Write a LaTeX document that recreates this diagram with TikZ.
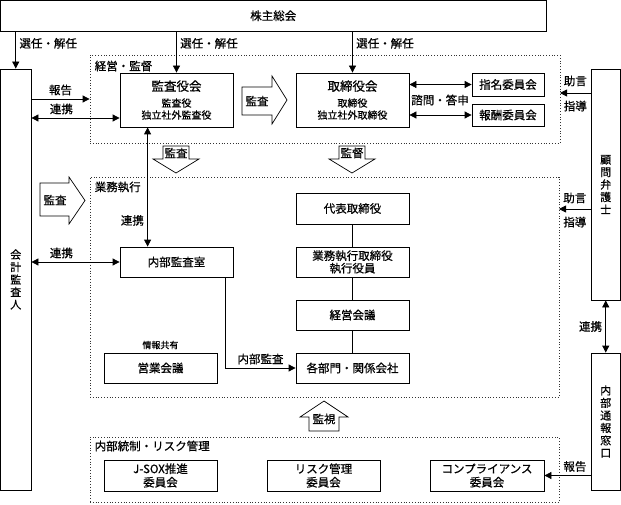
\documentclass[tikz,border=0pt]{standalone}
\usepackage{fontspec}
\setmainfont{Noto Sans CJK JP}[FakeBold=0.6]
\usetikzlibrary{arrows.meta}

\tikzset{
  arr/.style={-{Triangle[length=7pt,width=7pt]}},
  dbl/.style={{Triangle[length=7pt,width=7pt]}-{Triangle[length=7pt,width=7pt]}},
  frame/.style={draw=black!80, dotted, line width=0.8pt, rectangle, inner sep=0pt},
  box/.style={draw, rectangle, inner sep=1pt, align=center},
  vbox/.style={box, font=\fontsize{11}{12.5}\selectfont},
  hollow/.style={draw, fill=white, line width=0.7pt},
  small/.style={font=\fontsize{10}{12}\selectfont},
}

\begin{document}
\begin{tikzpicture}[x=1pt, y=-1pt, line width=0.8pt, font=\fontsize{11.5}{13.5}\selectfont]
\useasboundingbox (0,0) rectangle (621,505);

\begin{scope}[every node/.style={frame}]
  \node (kantoku) at (325,99)      [minimum width=470, minimum height=88]   {};
  \node (shikko)  at (324.5,287)   [minimum width=469, minimum height=220]  {};
  \node (tosei)   at (324.5,469.5) [minimum width=469, minimum height=65]   {};
\end{scope}

\node[anchor=west] (kantokuL) at (91,66)  {経営・監督};
\node[anchor=west] (shikkoL)  at (91,187) {業務執行};
\node[anchor=west] (toseiL)   at (91,446) {内部統制・リスク管理};

% hollow block arrows
\draw[hollow] (242,87) -- (272,87) -- (272,76) -- (287,100) -- (272,124) -- (272,115) -- (242,115) -- cycle;
\node (kansaA) at (257,101) {監査};
\draw[hollow] (40,183) -- (69,183) -- (69,177) -- (85,200.5) -- (69,224) -- (69,216) -- (40,216) -- cycle;
\node (kaikeiA) at (55,200) {監査};
\draw[hollow] (163,146) -- (189,146) -- (189,159) -- (199,159) -- (176,173) -- (153,159) -- (163,159) -- cycle;
\node (kansaB) at (176,153) {監査};
\draw[hollow] (339,146) -- (365,146) -- (365,159) -- (375,159) -- (352,173) -- (329,159) -- (339,159) -- cycle;
\node (kantokuA) at (352,153) {監督};
\draw[hollow] (309,431) -- (309,417) -- (300,417) -- (324,401) -- (348,417) -- (339,417) -- (339,431) -- cycle;
\node (kanshiA) at (324,419) {監視};

\begin{scope}[every node/.style={box}]
  \node (kabu)   at (273.25,15.75) [minimum width=545.5, minimum height=30.5] {株主総会};
  \node (kansa)  at (176.5,100) [minimum width=113, minimum height=54, small]
    {{\fontsize{12.5}{14}\selectfont 監査役会}\\[4pt]監査役\\独立社外監査役};
  \node (torishimari) at (352.5,100) [minimum width=113, minimum height=54, small]
    {{\fontsize{12.5}{14}\selectfont 取締役会}\\[4pt]取締役\\独立社外取締役};
  \node (shimei) at (508,84.5) [minimum width=72, minimum height=23] {指名委員会};
  \node (houshu) at (508,115)  [minimum width=72, minimum height=22] {報酬委員会};
  \node (naibu)  at (176.5,262) [minimum width=113, minimum height=30] {内部監査室};
  \node (daihyo) at (352.5,208.5) [minimum width=113, minimum height=31] {代表取締役};
  \node (gyomu)  at (352.5,262) [minimum width=113, minimum height=30,
    font=\fontsize{11.5}{12.5}\selectfont] {業務執行取締役\\執行役員};
  \node (keiei)  at (352.5,315) [minimum width=113, minimum height=30] {経営会議};
  \node (kakubu) at (352.5,368) [minimum width=113, minimum height=30] {各部門・関係会社};
  \node (eigyo)  at (160.5,368) [minimum width=113, minimum height=30] {営業会議};
  \node (jsox)   at (160.5,475.5) [minimum width=113, minimum height=31,
    font=\fontsize{11.5}{13.5}\selectfont] {J-SOX推進\\委員会};
  \node (risk)   at (323.5,475.5) [minimum width=113, minimum height=31,
    font=\fontsize{11.5}{13.5}\selectfont] {リスク管理\\委員会};
  \node (comp)   at (487,475.5) [minimum width=114, minimum height=31,
    font=\fontsize{11.5}{13.5}\selectfont] {コンプライアンス\\委員会};
\end{scope}

\begin{scope}[every node/.style={vbox}]
  \node (kaikei) at (15.75,279.5)  [minimum width=30.5, minimum height=421] {会\\計\\監\\査\\人};
  \node (komon)  at (605.75,184.5) [minimum width=29.5, minimum height=231] {顧\\問\\弁\\護\\士};
  \node (tsuho)  at (605.75,421.5) [minimum width=29.5, minimum height=137] {内\\部\\通\\報\\窓\\口};
\end{scope}

\node[font=\fontsize{9}{11}\selectfont] (joho) at (160.5,345) {情報共有};
\node (shimon) at (440,100) {諮問・答申};

\coordinate (rk1) at ([yshift=-18pt]kansa.west);
\coordinate (adv1) at (560,93);
\coordinate (adv2) at (559,209);

\draw[arr] (kaikei.north |- kabu.south) -- (kaikei.north) node[pos=0.32, right] {選任・解任};
\draw[arr] (kansa.north |- kabu.south) -- (kansa.north) node[pos=0.29, right] {選任・解任};
\draw[arr] (torishimari.north |- kabu.south) -- (torishimari.north) node[pos=0.29, right] {選任・解任};

\draw[arr] (kaikei.east |- kantoku.west) -- (kantoku.west) node[midway, above] {報告};
\draw[dbl] (kaikei.east |- rk1) -- (rk1) node[pos=0.34, above] {連携};
\draw[dbl] (kaikei.east |- naibu.west) -- (naibu.west) node[pos=0.34, above] {連携};
\draw[dbl] ([xshift=28pt]kansa.south west) -- ([xshift=28pt]naibu.north west)
  node[pos=0.78, left] {連携};

\draw[dbl] (torishimari.east |- shimei.west) -- (shimei.west);
\draw[dbl] (torishimari.east |- houshu.west) -- (houshu.west);

\draw[arr] (komon.west |- adv1) -- (adv1)
  node[midway, above=3pt] {助言} node[midway, below=4pt] {指導};
\draw[arr] (komon.west |- adv2) -- (adv2)
  node[midway, above=2pt] {助言} node[midway, below=4pt] {指導};

\draw (daihyo) -- (gyomu);
\draw (gyomu) -- (keiei);
\draw (keiei) -- (kakubu);
\draw[arr] ([xshift=-8pt]naibu.south east) |- (kakubu.west) node[pos=0.75, above] {内部監査};

\draw[dbl] (komon.south) -- (tsuho.north) node[midway, left] {連携};
\draw[arr] (tsuho.west |- comp.east) -- (comp.east) node[pos=0.34, above] {報告};

\end{tikzpicture}
\end{document}
